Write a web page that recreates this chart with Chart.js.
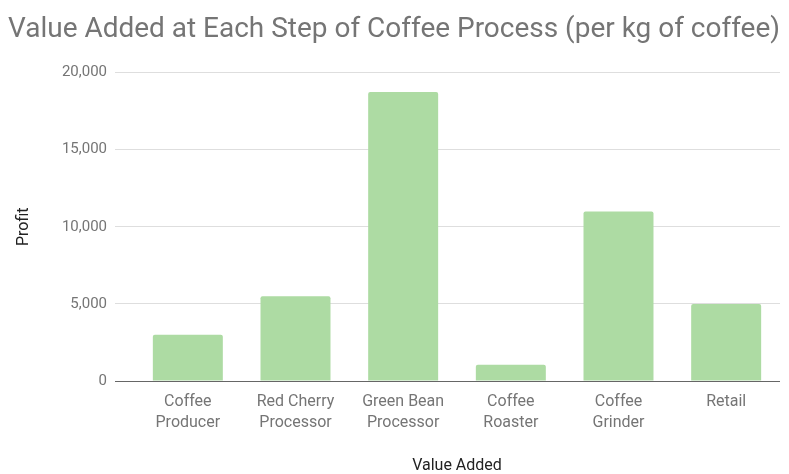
<!DOCTYPE html>
<html>
<head>
<meta charset="utf-8">
<script src="https://cdn.jsdelivr.net/npm/chart.js@4"></script>
<style>
  html, body { margin: 0; padding: 0; background: #fff; }
  #wrap { width: 789px; height: 474px; }
</style>
</head>
<body>
<div id="wrap"><canvas id="valueChart" width="789" height="474"></canvas></div>
<script>
// categories (two-line labels as in the original)
const steps = [
    ['Coffee', 'Producer'],
    ['Red Cherry', 'Processor'],
    ['Green Bean', 'Processor'],
    ['Coffee', 'Roaster'],
    ['Coffee', 'Grinder'],
    'Retail'
];
// profit per kg
const profit = [3000, 5500, 18750, 1050, 11000, 5000];
const yTicks = [0, 5000, 10000, 15000, 20000];

const grey = '#757575';

function renderValueChart() {
    const ctx = document.getElementById('valueChart').getContext('2d');

    new Chart(ctx, {
        type: 'bar',
        data: {
            labels: steps,
            datasets: [{
                label: 'Profit',
                data: profit,
                backgroundColor: '#addba3',
                borderRadius: 2,
                borderSkipped: 'bottom',
                barPercentage: 0.65,
                categoryPercentage: 1.0
            }]
        },
        options: {
            responsive: false,
            animation: false,
            layout: { padding: { left: 8, right: 9, top: 0, bottom: 0 } },
            plugins: {
                legend: { display: false },
                tooltip: { enabled: false },
                title: {
                    display: true,
                    text: 'Value Added at Each Step of Coffee Process (per kg of coffee)',
                    align: 'start',
                    color: grey,
                    font: { family: 'Roboto', size: 28, weight: 'normal' },
                    padding: { top: 13, bottom: 26 }
                }
            },
            scales: {
                x: {
                    grid: { display: false, drawTicks: false },
                    border: { display: false },
                    ticks: {
                        color: grey,
                        font: { family: 'Roboto', size: 16, lineHeight: 1.35 },
                        padding: 10,
                        maxRotation: 0,
                        autoSkip: false
                    },
                    title: {
                        display: true,
                        text: 'Value Added',
                        color: '#222',
                        font: { family: 'Roboto', size: 16 },
                        padding: { top: 4, bottom: -2 }
                    },
                    afterFit: s => { s.height = 93; }
                },
                y: {
                    min: 0,
                    max: 20000,
                    afterBuildTicks: s => { s.ticks = yTicks.map(v => ({ value: v })); },
                    grid: {
                        color: c => c.tick && c.tick.value === 0 ? '#666' : '#dedede',
                        lineWidth: 1,
                        drawTicks: true,
                        tickLength: 19
                    },
                    border: { display: false },
                    ticks: {
                        color: grey,
                        font: { family: 'Roboto', size: 15 },
                        padding: 8,
                        callback: v => v.toLocaleString('en-US')
                    },
                    title: {
                        display: true,
                        text: 'Profit',
                        color: '#222',
                        font: { family: 'Roboto', size: 16 },
                        padding: { top: 6, bottom: 0 }
                    },
                    afterFit: s => { s.width = 126; }
                }
            }
        }
    });
}

document.addEventListener('DOMContentLoaded', renderValueChart);
</script>
</body>
</html>
